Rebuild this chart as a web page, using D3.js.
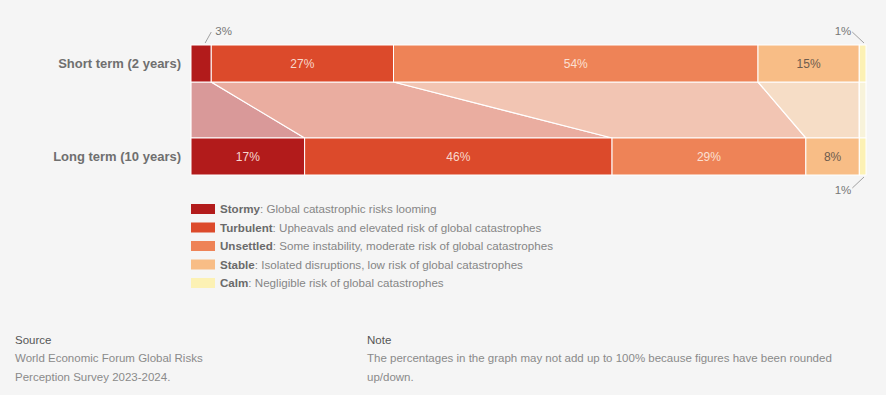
<!DOCTYPE html>
<html>
<head>
<meta charset="utf-8">
<script src="https://cdn.jsdelivr.net/npm/d3@7"></script>
<style>
  body { margin: 0; background: #f5f5f5; }
  svg { display: block; font-family: "Liberation Sans", Arial, sans-serif; }
</style>
</head>
<body>
<script>
const periods = ['Short term (2 years)', 'Long term (10 years)'];
const categories = ['Stormy', 'Turbulent', 'Unsettled', 'Stable', 'Calm'];
const descriptions = [
  'Global catastrophic risks looming',
  'Upheavals and elevated risk of global catastrophes',
  'Some instability, moderate risk of global catastrophes',
  'Isolated disruptions, low risk of global catastrophes',
  'Negligible risk of global catastrophes'
];
const shortTerm = [3, 27, 54, 15, 1];
const longTerm  = [17, 46, 29, 8, 1];
const colors = ['#b21b1b', '#dc4a2b', '#ee8357', '#f8bd86', '#fcf1b4'];
const labelColors = ['#f6d6d0', '#f8d8cc', '#fbe0d2', '#6e5c4d', '#6e5c4d'];

const width = 886, height = 395;
const left = 191, right = 866;

const svg = d3.select('body').append('svg')
  .attr('width', width)
  .attr('height', height);

svg.append('rect').attr('width', width).attr('height', height).attr('fill', '#f5f5f5');

const y = d3.scaleBand()
  .domain(periods)
  .range([45, 175])
  .paddingInner(0.602);

const color = d3.scaleOrdinal().domain(categories).range(colors);

// stack each row, scaled to its own total
function stackRow(values) {
  const total = d3.sum(values);
  const x = d3.scaleLinear().domain([0, total]).range([left, right]);
  let acc = 0;
  return values.map((v, i) => {
    const seg = { cat: categories[i], value: v, i: i, x0: x(acc), x1: x(acc + v) };
    acc += v;
    return seg;
  });
}

const rows = [stackRow(shortTerm), stackRow(longTerm)];

// connecting bands
const yTopBottom = y(periods[0]) + y.bandwidth();
const yBotTop = y(periods[1]);
const bands = categories.map((c, i) => [
  [rows[0][i].x0, yTopBottom],
  [rows[0][i].x1, yTopBottom],
  [rows[1][i].x1, yBotTop],
  [rows[1][i].x0, yBotTop]
]);

svg.append('g').selectAll('path')
  .data(bands)
  .join('path')
  .attr('d', d => d3.line()(d) + 'Z')
  .attr('fill', (d, i) => colors[i])
  .attr('fill-opacity', 0.42)
  .attr('stroke', '#fff')
  .attr('stroke-width', 1.2);

// bars
rows.forEach((row, r) => {
  const g = svg.append('g');
  g.selectAll('rect')
    .data(row)
    .join('rect')
    .attr('x', d => d.x0)
    .attr('y', y(periods[r]))
    .attr('width', d => d.x1 - d.x0)
    .attr('height', y.bandwidth())
    .attr('fill', d => color(d.cat))
    .attr('stroke', '#fff')
    .attr('stroke-width', 1);

  g.selectAll('text.val')
    .data(row.filter(d => d.value >= 5))
    .join('text')
    .attr('class', 'val')
    .attr('x', d => (d.x0 + d.x1) / 2)
    .attr('y', y(periods[r]) + y.bandwidth() / 2)
    .attr('dy', '0.36em')
    .attr('text-anchor', 'middle')
    .attr('font-size', 12)
    .attr('fill', d => labelColors[d.i])
    .text(d => d.value + '%');

  svg.append('text')
    .attr('x', 181)
    .attr('y', y(periods[r]) + y.bandwidth() / 2)
    .attr('dy', '0.36em')
    .attr('text-anchor', 'end')
    .attr('font-size', 13)
    .attr('font-weight', 'bold')
    .attr('fill', '#6f6f6f')
    .text(periods[r]);
});

// small value callouts
const ann = svg.append('g').attr('stroke', '#8a8a8a').attr('stroke-width', 0.8);
const top0 = y(periods[0]);
const bot1 = y(periods[1]) + y.bandwidth();
const s0 = rows[0][0];
ann.append('line').attr('x1', (s0.x0 + s0.x1) / 2 + 4).attr('y1', top0 - 2)
  .attr('x2', s0.x1).attr('y2', top0 - 13);
svg.append('text').attr('x', s0.x1 + 4).attr('y', top0 - 14).attr('dy', '0.36em')
  .attr('font-size', 11.5).attr('fill', '#777').text(shortTerm[0] + '%');

const c0 = rows[0][4];
ann.append('line').attr('x1', c0.x1 - 2).attr('y1', top0 - 2)
  .attr('x2', c0.x0 - 7).attr('y2', top0 - 13);
svg.append('text').attr('x', c0.x0 - 8).attr('y', top0 - 14).attr('dy', '0.36em')
  .attr('text-anchor', 'end').attr('font-size', 11.5).attr('fill', '#777').text(shortTerm[4] + '%');

const c1 = rows[1][4];
ann.append('line').attr('x1', c1.x1 - 2).attr('y1', bot1 + 2)
  .attr('x2', c1.x0 - 7).attr('y2', bot1 + 13);
svg.append('text').attr('x', c1.x0 - 8).attr('y', bot1 + 15).attr('dy', '0.36em')
  .attr('text-anchor', 'end').attr('font-size', 11.5).attr('fill', '#777').text(longTerm[4] + '%');

// legend
const ly = d3.scalePoint().domain(categories).range([209, 283]);
const leg = svg.append('g').selectAll('g')
  .data(categories)
  .join('g')
  .attr('transform', d => `translate(191,${ly(d)})`);
leg.append('rect')
  .attr('x', 0).attr('y', -5).attr('width', 24).attr('height', 10)
  .attr('fill', d => color(d));
const lt = leg.append('text')
  .attr('x', 29).attr('dy', '0.36em')
  .attr('font-size', 11.6);
lt.append('tspan').attr('font-weight', 'bold').attr('fill', '#6a6a6a').text(d => d);
lt.append('tspan').attr('fill', '#868686').text((d, i) => ': ' + descriptions[i]);

// footer
const foot = svg.append('g').attr('font-size', 11.5);
foot.append('text').attr('x', 15).attr('y', 344).attr('fill', '#555').text('Source');
foot.append('text').attr('x', 15).attr('y', 362).attr('fill', '#8a8a8a').text('World Economic Forum Global Risks');
foot.append('text').attr('x', 15).attr('y', 381).attr('fill', '#8a8a8a').text('Perception Survey 2023-2024.');
foot.append('text').attr('x', 367).attr('y', 344).attr('fill', '#555').text('Note');
foot.append('text').attr('x', 367).attr('y', 362).attr('fill', '#8a8a8a')
  .text('The percentages in the graph may not add up to 100% because figures have been rounded');
foot.append('text').attr('x', 367).attr('y', 381).attr('fill', '#8a8a8a').text('up/down.');
</script>
</body>
</html>
